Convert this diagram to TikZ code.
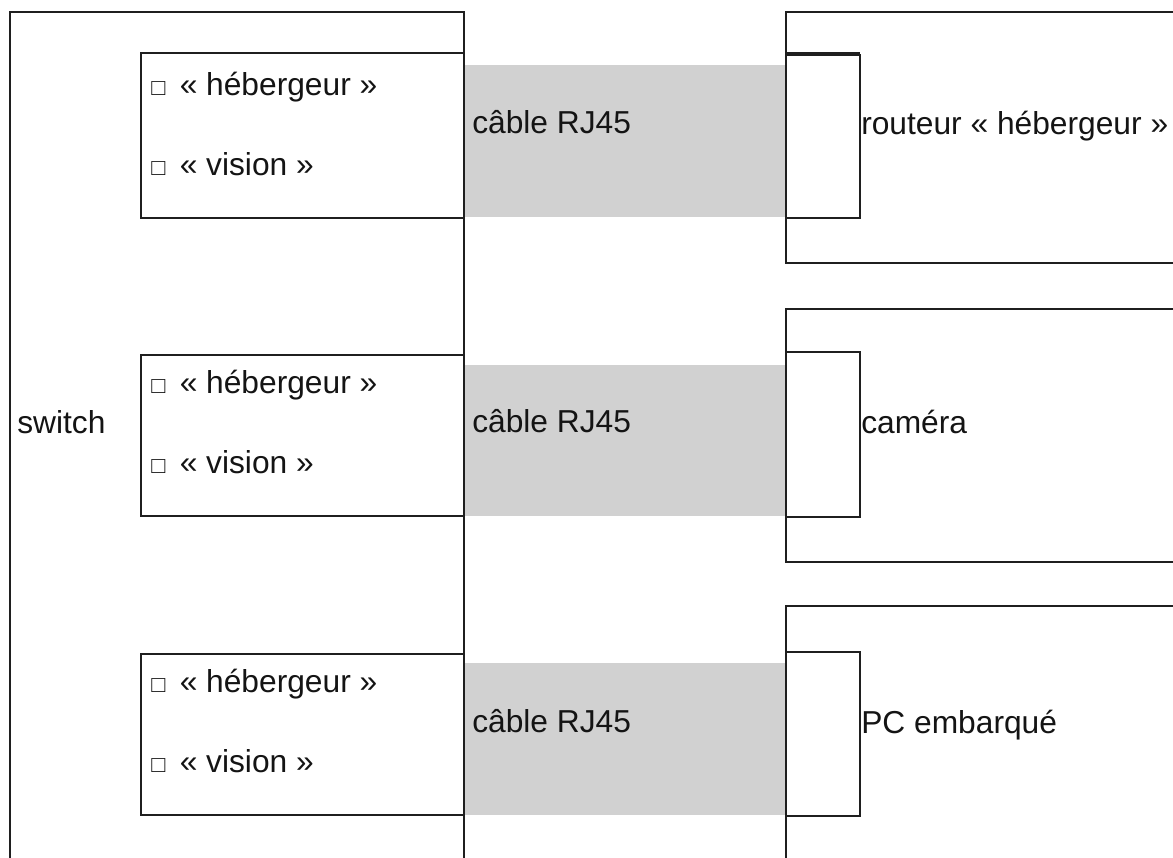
\documentclass[tikz,border=0pt]{standalone}
\usepackage{fontspec}
\setmainfont{Liberation Sans}
% small empty check box in front of an option
\newcommand\optbox{{\fontsize{17.5}{20}\selectfont □}\hspace{10.8pt}}
\begin{document}
\begin{tikzpicture}[x=0.75pt,y=-0.75pt,
  frame/.style={draw=black!88,line width=1.5pt},
  cable/.style={fill=black!18,draw=none},
  rect/.style 2 args={minimum width=#1*0.75pt,minimum height=#2*0.75pt,
    anchor=north west,inner sep=0pt,outer sep=0pt},
  lbl/.style={anchor=base west,inner sep=0pt,text=black!92,
    font=\fontsize{23.8}{28}\selectfont}]
\useasboundingbox (0,0) rectangle (1173,857);
\clip (0,0) rectangle (1173,857);

% RJ45 cables between the switch and the devices
\node[cable,rect={322}{152}] (cab1) at (464,65) {};
\node[cable,rect={322}{151}] (cab2) at (464,365) {};
\node[cable,rect={322}{152}] (cab3) at (464,663) {};

% switch with its three ports
\node[frame,rect={454}{900}] (sw) at (10,12) {};
\node[frame,rect={323}{165}] (swp1) at (141,53) {};
\node[frame,rect={323}{161}] (swp2) at (141,355) {};
\node[frame,rect={323}{161}] (swp3) at (141,654) {};

% devices with their ports
\node[frame,rect={450}{251}] (dev1) at (786,12) {};
\node[frame,rect={450}{253}] (dev2) at (786,309) {};
\node[frame,rect={450}{300}] (dev3) at (786,606) {};
\node[frame,rect={74}{163}] (dp1) at (786,55) {};
\node[frame,rect={74}{165}] (dp2) at (786,352) {};
\node[frame,rect={74}{164}] (dp3) at (786,652) {};
\draw[frame] ([yshift=1.5pt]dp1.north west) -- ([yshift=1.5pt]dp1.north east);

% labels
\node[lbl] (tsw) at (17,433) {switch};
\node[lbl] (h1) at (151,95) {\optbox« hébergeur »};
\node[lbl] (v1) at (151,175) {\optbox« vision »};
\node[lbl] (h2) at (151,393) {\optbox« hébergeur »};
\node[lbl] (v2) at (151,473) {\optbox« vision »};
\node[lbl] (h3) at (151,692) {\optbox« hébergeur »};
\node[lbl] (v3) at (151,772) {\optbox« vision »};
\node[lbl] (tc1) at (472,133) {câble RJ45};
\node[lbl] (tc2) at (472,432) {câble RJ45};
\node[lbl] (tc3) at (472,732) {câble RJ45};
\node[lbl] (td1) at (861,134) {routeur « hébergeur »};
\node[lbl] (td2) at (861,433) {caméra};
\node[lbl] (td3) at (861,733) {PC embarqué};
\end{tikzpicture}
\end{document}
